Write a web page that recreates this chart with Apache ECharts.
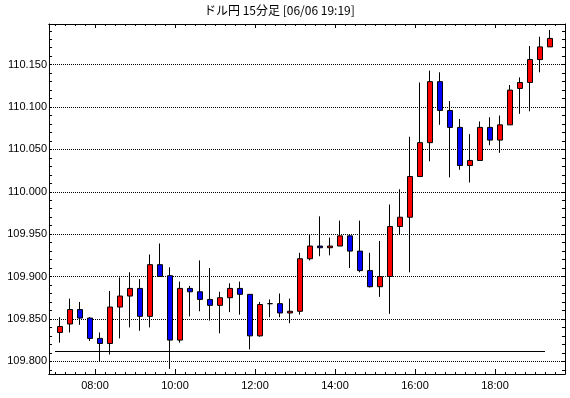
<!DOCTYPE html>
<html>
<head>
<meta charset="utf-8">
<script src="https://cdn.jsdelivr.net/npm/echarts@6/dist/echarts.min.js"></script>
<style>
  html, body { margin: 0; padding: 0; background: #fff; }
  #chart { width: 570px; height: 398px; }
</style>
</head>
<body>
<div id="chart"></div>
<script>
// 15分足 ドル円 06/06
var times = ['07:00','07:15','07:30','07:45','08:00','08:15','08:30','08:45','09:00','09:15',
             '09:30','09:45','10:00','10:15','10:30','10:45','11:00','11:15','11:30','11:45',
             '12:00','12:15','12:30','12:45','13:00','13:15','13:30','13:45','14:00','14:15',
             '14:30','14:45','15:00','15:15','15:30','15:45','16:00','16:15','16:30','16:45',
             '17:00','17:15','17:30','17:45','18:00','18:15','18:30','18:45','19:00','19:15'];
var opens  = [109.834,109.844,109.861,109.851,109.827,109.821,109.864,109.877,109.886,109.853,
              109.914,109.901,109.825,109.886,109.882,109.873,109.866,109.875,109.886,109.879,
              109.830,109.868,109.868,109.857,109.859,109.921,109.936,109.934,109.936,109.948,
              109.930,109.907,109.888,109.900,109.959,109.970,110.018,110.058,110.130,110.096,
              110.076,110.031,110.037,110.076,110.061,110.079,110.122,110.129,110.156,110.171];
var closes = [109.841,109.861,109.851,109.827,109.821,109.864,109.877,109.886,109.853,109.914,
              109.900,109.825,109.886,109.882,109.873,109.866,109.875,109.886,109.879,109.830,
              109.867,109.868,109.857,109.859,109.921,109.936,109.934,109.936,109.948,109.930,
              109.907,109.888,109.900,109.959,109.970,110.018,110.058,110.130,110.096,110.076,
              110.031,110.037,110.076,110.061,110.079,110.120,110.129,110.156,110.171,110.181];
var lows   = [109.822,109.834,109.843,109.824,109.800,109.808,109.827,109.840,109.836,109.840,
              109.900,109.791,109.822,109.853,109.859,109.848,109.833,109.858,109.855,109.814,
              109.829,109.852,109.852,109.845,109.855,109.919,109.924,109.925,109.936,109.910,
              109.905,109.887,109.876,109.856,109.949,109.905,110.018,110.036,110.079,110.017,
              110.026,110.011,110.037,110.055,110.046,110.079,110.092,110.095,110.141,110.171];
var highs  = [109.852,109.874,109.870,109.852,109.834,109.883,109.899,109.905,109.897,109.926,
              109.939,109.911,109.894,109.889,109.919,109.910,109.882,109.892,109.894,109.879,
              109.870,109.873,109.880,109.874,109.928,109.950,109.971,109.946,109.966,109.950,
              109.966,109.928,109.942,109.985,110.003,110.065,110.129,110.143,110.141,110.107,
              110.086,110.068,110.083,110.088,110.090,110.126,110.135,110.172,110.183,110.191];
var refLevel = 109.812;

var yMin = 109.785, yMax = 110.198;
var xMin = -0.6, xMax = 51.0;   // 足 i の中心は i + 0.5

var candles = times.map(function (t, i) {
    return [i + 0.5, opens[i], closes[i], lows[i], highs[i]];
});

var font = 'Liberation Sans';

function tickAxis(pos, len, shift, step) {
    return {
        type: 'value', position: pos,
        min: xMin - shift, max: xMax - shift,
        splitNumber: 52 / step, minInterval: step, maxInterval: step,
        axisLine: { show: true, onZero: false, lineStyle: { color: '#000', width: 1 } },
        axisTick: { show: true, inside: true, length: len, lineStyle: { color: '#000' } },
        axisLabel: { show: false },
        splitLine: { show: false }
    };
}

var chart = echarts.init(document.getElementById('chart'));
chart.setOption({
    animation: false,
    backgroundColor: '#fff',
    title: {
        text: 'ドル円 15分足 [06/06 19:19]',
        left: 204, top: 4, padding: 0,
        textStyle: { fontFamily: 'Noto Sans CJK JP', fontSize: 12, fontWeight: 'normal', color: '#000' }
    },
    grid: { left: 49, right: 5, top: 24, bottom: 24 },
    xAxis: [
        {
            type: 'value', position: 'bottom',
            min: xMin, max: xMax,
            splitNumber: 52, minInterval: 1, maxInterval: 1,
            axisLine: { show: true, onZero: false, lineStyle: { color: '#000', width: 1 } },
            axisTick: { show: true, inside: true, length: 2, lineStyle: { color: '#000' } },
            axisLabel: {
                margin: 6, fontFamily: font, fontSize: 11, color: '#000',
                formatter: function (v) {
                    var k = Math.round(v);
                    if (Math.abs(v - k) > 1e-6 || k % 8 !== 4) return '';
                    return times[k];
                }
            },
            splitLine: { show: false }
        },
        tickAxis('bottom', 5, 4, 8),
        tickAxis('top', 2, 0, 1),
        tickAxis('top', 4, 4, 8)
    ],
    yAxis: [
        {
            type: 'value', position: 'left',
            min: yMin, max: yMax,
            splitNumber: 8, minInterval: 0.05, maxInterval: 0.05,
            axisLine: { show: true, onZero: false, lineStyle: { color: '#000', width: 1 } },
            axisTick: { show: true, inside: true, length: 3, lineStyle: { color: '#000' } },
            minorTick: { show: true, splitNumber: 5, length: 3, lineStyle: { color: '#000' } },
            axisLabel: {
                margin: 2, fontFamily: font, fontSize: 11, color: '#000',
                formatter: function (v) {
                    if (Math.abs(v * 20 - Math.round(v * 20)) > 1e-6) return '';
                    if (v > 110.17) return '';
                    return v.toFixed(3);
                }
            },
            splitLine: { show: true, lineStyle: { color: '#000', width: 1, type: [1, 1] } }
        },
        {
            type: 'value', position: 'right',
            min: yMin, max: yMax,
            splitNumber: 8, minInterval: 0.05, maxInterval: 0.05,
            axisLine: { show: true, onZero: false, lineStyle: { color: '#000', width: 1 } },
            axisTick: { show: true, inside: true, length: 3, lineStyle: { color: '#000' } },
            minorTick: { show: true, splitNumber: 5, length: 3, lineStyle: { color: '#000' } },
            axisLabel: { show: false },
            splitLine: { show: false }
        }
    ],
    series: [{
        type: 'candlestick',
        xAxisIndex: 0, yAxisIndex: 0,
        data: candles,
        encode: { x: 0, y: [1, 2, 3, 4] },
        barWidth: 5,
        itemStyle: {
            color: '#ff0000', color0: '#0000ff',
            borderColor: '#000', borderColor0: '#000', borderColorDoji: '#000',
            borderWidth: 1
        },
        emphasis: { disabled: true },
        markLine: {
            silent: true,
            symbol: 'none',
            label: { show: false },
            lineStyle: { color: '#000', width: 1, type: 'solid' },
            data: [[{ coord: [0, refLevel] }, { coord: [49, refLevel] }]]
        }
    }]
});
</script>
</body>
</html>
